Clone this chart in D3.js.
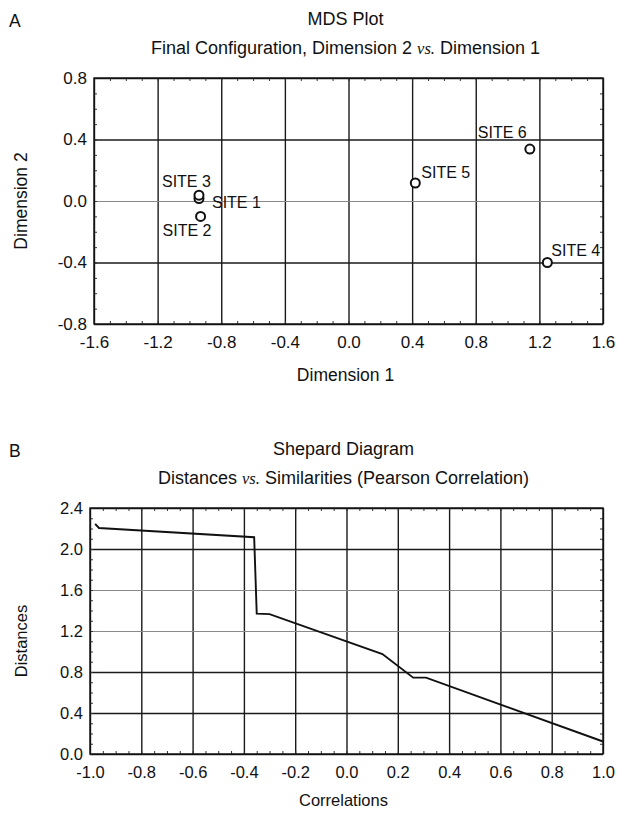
<!DOCTYPE html>
<html lang="en">
<head>
<meta charset="UTF-8">
<title>MDS Plot / Shepard Diagram</title>
<script src="https://cdn.jsdelivr.net/npm/d3@7/dist/d3.min.js"></script>
<style>
  body { margin: 0; background: #fff; }
  svg text { font-family: "Liberation Sans", Arial, sans-serif; fill: #111; }
  .vs { font-family: "Liberation Serif", "Times New Roman", serif; font-style: italic; }
</style>
</head>
<body>
<svg width="617" height="814"></svg>
<script>
// ---- panel A: MDS final configuration ----
var siteNames = ["SITE 1", "SITE 2", "SITE 3", "SITE 4", "SITE 5", "SITE 6"];
var dim1 = [-0.94, -0.93, -0.94, 1.25, 0.42, 1.14];
var dim2 = [0.016, -0.10, 0.038, -0.40, 0.117, 0.338];
var dimTicksX = [-1.6, -1.2, -0.8, -0.4, 0.0, 0.4, 0.8, 1.2, 1.6];
var dimTicksY = [-0.8, -0.4, 0.0, 0.4, 0.8];

// ---- panel B: Shepard diagram (step line) ----
var correlations = [-0.98, -0.965, -0.36, -0.35, -0.30, 0.14, 0.26, 0.31, 1.0];
var distances = [2.245, 2.205, 2.115, 1.37, 1.365, 0.975, 0.745, 0.745, 0.122];
var corrTicks = [-1.0, -0.8, -0.6, -0.4, -0.2, 0.0, 0.2, 0.4, 0.6, 0.8, 1.0];
var distTicks = [0.0, 0.4, 0.8, 1.2, 1.6, 2.0, 2.4];

var svg = d3.select('svg');
var fmt = function(d){ return d.toFixed(1); };

// where each site's label sits relative to its circle (px)
var labelPos = {
  "SITE 1": [13, 9], "SITE 2": [-38, 20], "SITE 3": [-37, -8],
  "SITE 4": [4, -7], "SITE 5": [6, -5], "SITE 6": [-52, -11]
};

function panel(o){
  var x = d3.scaleLinear().domain(o.xDomain).range([o.left, o.right]);
  var y = d3.scaleLinear().domain(o.yDomain).range([o.bottom, o.top]);
  var w = o.right - o.left, h = o.bottom - o.top;
  var g = svg.append('g');

  // vertical grid
  g.append('g')
    .attr('transform', 'translate(0,' + o.bottom + ')')
    .call(d3.axisBottom(x).tickValues(o.xTicks).tickSize(-h).tickFormat(''))
    .call(function(s){
      s.select('.domain').remove();
      s.selectAll('line').attr('stroke', '#1a1a1a').attr('stroke-width', 1.4);
    });
  // horizontal grid
  g.append('g')
    .attr('transform', 'translate(' + o.left + ',0)')
    .call(d3.axisLeft(y).tickValues(o.yTicks).tickSize(-w).tickFormat(''))
    .call(function(s){
      s.select('.domain').remove();
      s.selectAll('line')
        .attr('stroke', function(d){ return o.lightY.indexOf(d) >= 0 ? '#8a8a8a' : '#1a1a1a'; })
        .attr('stroke-width', function(d){ return o.lightY.indexOf(d) >= 0 ? 1 : 1.4; });
    });

  // minor ticks on the frame, pointing inward
  var minorX = d3.range(o.xDomain[0], o.xDomain[1] + 1e-9, o.xMinor);
  var minorY = d3.range(o.yDomain[0], o.yDomain[1] + 1e-9, o.yMinor);
  [['axisBottom', o.bottom], ['axisTop', o.top]].forEach(function(a){
    g.append('g').attr('transform', 'translate(0,' + a[1] + ')')
      .call(d3[a[0]](x).tickValues(minorX).tickSize(-3).tickFormat(''))
      .call(function(s){ s.select('.domain').remove(); s.selectAll('line').attr('stroke', '#333'); });
  });
  [['axisLeft', o.left], ['axisRight', o.right]].forEach(function(a){
    g.append('g').attr('transform', 'translate(' + a[1] + ',0)')
      .call(d3[a[0]](y).tickValues(minorY).tickSize(-3).tickFormat(''))
      .call(function(s){ s.select('.domain').remove(); s.selectAll('line').attr('stroke', '#333'); });
  });

  // frame
  g.append('rect')
    .attr('x', o.left).attr('y', o.top).attr('width', w).attr('height', h)
    .attr('fill', 'none').attr('stroke', '#111').attr('stroke-width', 1.4);

  // tick labels
  g.append('g')
    .attr('transform', 'translate(0,' + o.bottom + ')')
    .call(d3.axisBottom(x).tickValues(o.xTicks).tickSize(0).tickPadding(12).tickFormat(fmt))
    .call(function(s){
      s.select('.domain').remove();
      s.selectAll('text').attr('font-size', o.tickSize).attr('font-family', null);
    });
  g.append('g')
    .attr('transform', 'translate(' + o.left + ',0)')
    .call(d3.axisLeft(y).tickValues(o.yTicks).tickSize(0).tickPadding(7).tickFormat(fmt))
    .call(function(s){
      s.select('.domain').remove();
      s.selectAll('text').attr('font-size', o.tickSize).attr('font-family', null);
    });

  // letter, titles
  svg.append('text').attr('x', 9).attr('y', o.top - 51).attr('font-size', 17.5).text(o.letter);
  var cx = (o.left + o.right) / 2 - 3;
  svg.append('text').attr('x', cx).attr('y', o.top - 53).attr('text-anchor', 'middle')
    .attr('font-size', 18).text(o.title);
  var sub = svg.append('text').attr('x', cx).attr('y', o.top - 24).attr('text-anchor', 'middle')
    .attr('font-size', 18);
  sub.append('tspan').text(o.sub[0]);
  sub.append('tspan').attr('class', 'vs').attr('font-size', 16.5).text('vs.');
  sub.append('tspan').text(o.sub[1]);

  // axis titles
  svg.append('text').attr('x', cx).attr('y', o.bottom + o.xTitleGap).attr('text-anchor', 'middle')
    .attr('font-size', o.titleSize).text(o.xTitle);
  svg.append('text')
    .attr('transform', 'translate(27,' + ((o.top + o.bottom) / 2 + o.yTitleShift) + ') rotate(-90)')
    .attr('text-anchor', 'middle').attr('font-size', o.titleSize).text(o.yTitle);

  return {x: x, y: y, g: g};
}

// panel A
var A = panel({
  left: 94, right: 603, top: 78, bottom: 324,
  xDomain: [-1.6, 1.6], yDomain: [-0.8, 0.8],
  xTicks: dimTicksX, yTicks: dimTicksY, lightY: [0],
  xMinor: 0.1, yMinor: 0.1, tickSize: 17, titleSize: 17.5, yTitleShift: 0,
  letter: 'A', title: 'MDS Plot',
  sub: ['Final Configuration, Dimension 2 ', ' Dimension 1'],
  xTitle: 'Dimension 1', yTitle: 'Dimension 2', xTitleGap: 57
});

var sites = siteNames.map(function(n, i){ return {name: n, d1: dim1[i], d2: dim2[i]}; });
A.g.selectAll('.site').data(sites).enter().append('circle')
  .attr('cx', function(d){ return A.x(d.d1); })
  .attr('cy', function(d){ return A.y(d.d2); })
  .attr('r', 4.5)
  .attr('fill', '#fff').attr('stroke', '#111').attr('stroke-width', 2);
A.g.selectAll('.lbl').data(sites).enter().append('text')
  .attr('x', function(d){ return A.x(d.d1) + labelPos[d.name][0]; })
  .attr('y', function(d){ return A.y(d.d2) + labelPos[d.name][1]; })
  .attr('font-size', 16)
  .text(function(d){ return d.name; });

// panel B
var B = panel({
  left: 90, right: 603, top: 508, bottom: 754,
  xDomain: [-1.0, 1.0], yDomain: [0, 2.4],
  xTicks: corrTicks, yTicks: distTicks, lightY: [1.2, 1.6],
  xMinor: 0.05, yMinor: 0.1, tickSize: 16.5, titleSize: 16.5, yTitleShift: 10,
  letter: 'B', title: 'Shepard Diagram',
  sub: ['Distances ', ' Similarities (Pearson Correlation)'],
  xTitle: 'Correlations', yTitle: 'Distances', xTitleGap: 52
});

var pts = correlations.map(function(c, i){ return [c, distances[i]]; });
B.g.append('path')
  .datum(pts)
  .attr('fill', 'none').attr('stroke', '#111').attr('stroke-width', 1.9)
  .attr('d', d3.line().x(function(d){ return B.x(d[0]); }).y(function(d){ return B.y(d[1]); }));
</script>
</body>
</html>
